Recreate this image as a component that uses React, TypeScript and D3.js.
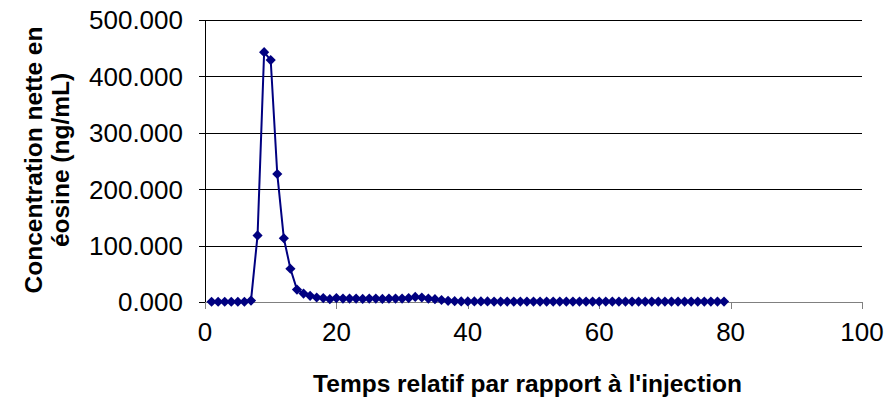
import React from "react";
import * as d3 from "d3";

const timeValues: number[] = [
  1, 2, 3, 4, 5, 6, 7, 8, 9, 10, 11, 12, 13, 14, 15, 16, 17, 18, 19, 20,
  21, 22, 23, 24, 25, 26, 27, 28, 29, 30, 31, 32, 33, 34, 35, 36, 37, 38, 39, 40,
  41, 42, 43, 44, 45, 46, 47, 48, 49, 50, 51, 52, 53, 54, 55, 56, 57, 58, 59, 60,
  61, 62, 63, 64, 65, 66, 67, 68, 69, 70, 71, 72, 73, 74, 75, 76, 77, 78, 79,
];

const concentrationValues: number[] = [
  0.5, 0.5, 0.5, 0.5, 0.5, 0.5, 2.5, 118, 443, 429, 227, 113, 59, 22, 15, 11, 8, 7, 5, 7,
  6, 6, 6, 5.5, 6, 6, 5.5, 6, 6, 6, 7, 9, 8, 6, 5, 3.5, 2, 1.5, 1, 1,
  1, 1, 1, 0.8, 0.8, 0.8, 0.8, 0.8, 0.8, 0.8, 0.8, 0.8, 0.8, 0.8, 0.8, 0.8, 0.8, 0.8, 0.8, 0.8,
  0.8, 0.8, 0.8, 0.8, 0.8, 0.8, 0.8, 0.8, 0.8, 0.8, 0.8, 0.8, 0.8, 0.8, 0.8, 0.8, 0.8, 0.8, 0.8,
];

const xTicks: number[] = [0, 20, 40, 60, 80, 100];
const yTicks: number[] = [0, 100, 200, 300, 400, 500];

const xTitle = "Temps relatif par rapport à l'injection";
const yTitleLines: string[] = ["Concentration nette en", "éosine (ng/mL)"];

export default function App() {
  const W = 891;
  const H = 403;
  const left = 205;
  const right = 862;
  const top = 20;
  const bottom = 302;

  const x = d3.scaleLinear().domain([0, 100]).range([left, right]);
  const y = d3.scaleLinear().domain([0, 500]).range([bottom, top]);

  const pts = timeValues.map((t, i) => [t, concentrationValues[i]] as [number, number]);
  const line = d3
    .line<[number, number]>()
    .x((d) => x(d[0]))
    .y((d) => y(d[1]));

  const diamond = d3.symbol().type(d3.symbolDiamond2).size(66)();

  const font = "Arial, 'Liberation Sans', sans-serif";
  const navy = "#000080";

  return (
    <svg
      width={W}
      height={H}
      style={{ position: "absolute", left: 0, top: 0, background: "#fff" }}
      fontFamily={font}
    >
      {yTicks
        .filter((t) => t > 0)
        .map((t) => (
          <line
            key={"g" + t}
            x1={left}
            x2={right}
            y1={Math.round(y(t)) + 0.5}
            y2={Math.round(y(t)) + 0.5}
            stroke="#000"
            strokeWidth={1}
          />
        ))}
      <line x1={left + 0.5} x2={left + 0.5} y1={top} y2={bottom + 1} stroke="#000" />
      {yTicks.map((t) => (
        <g key={"yt" + t}>
          <line
            x1={left - 6}
            x2={left}
            y1={Math.round(y(t)) + 0.5}
            y2={Math.round(y(t)) + 0.5}
            stroke="#000"
          />
          <text
            x={183}
            y={y(t)}
            dy="0.36em"
            textAnchor="end"
            fontSize={26}
            fill="#000"
          >
            {t.toFixed(3)}
          </text>
        </g>
      ))}
      <line
        x1={left}
        x2={right}
        y1={bottom + 0.5}
        y2={bottom + 0.5}
        stroke="#808080"
      />
      {xTicks.map((t) => (
        <g key={"xt" + t}>
          <line
            x1={Math.round(x(t)) + 0.5}
            x2={Math.round(x(t)) + 0.5}
            y1={bottom}
            y2={bottom + 7}
            stroke="#808080"
          />
          <text
            x={x(t)}
            y={bottom + 39}
            textAnchor="middle"
            fontSize={26}
            fill="#000"
          >
            {t}
          </text>
        </g>
      ))}
      <path d={line(pts) || ""} fill="none" stroke={navy} strokeWidth={2} />
      {pts.map((d, i) => (
        <path
          key={"m" + i}
          d={diamond || ""}
          transform={`translate(${x(d[0])},${y(d[1])})`}
          fill={navy}
        />
      ))}
      <text
        x={(left + right) / 2 - 6}
        y={392}
        textAnchor="middle"
        fontSize={24.5}
        fontWeight="bold"
        fill="#000"
      >
        {xTitle}
      </text>
      <g transform={`translate(0,160) rotate(-90)`}>
        {yTitleLines.map((s, i) => (
          <text
            key={s}
            x={0}
            y={42 + i * 27}
            textAnchor="middle"
            fontSize={24.5}
            fontWeight="bold"
            fill="#000"
          >
            {s}
          </text>
        ))}
      </g>
    </svg>
  );
}
